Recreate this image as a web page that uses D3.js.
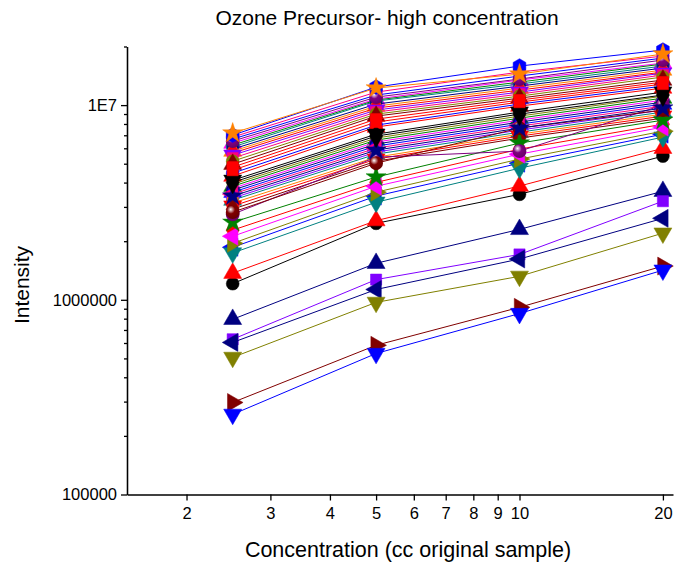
<!DOCTYPE html>
<html lang="en">
<head>
    <meta charset="UTF-8">
    <title>Ozone Precursor- high concentration</title>
    <script src="https://cdn.jsdelivr.net/npm/d3@7"></script>
    <style>
        body { margin: 0; background: #fff; }
        text { font-family: "Liberation Sans", Arial, sans-serif; fill: #000; }
    </style>
</head>
<body>
<script>
    const [width, height] = [674, 567]

    // x values shared by every compound (cc of original sample)
    const concentration = [2.5, 5, 10, 20]

    // intensity per compound, one row per plotted line
    const intensity = [
        [6.85e6, 1.166e7, 1.478e7, 1.786e7],
        [6.69e6, 1.126e7, 1.410e7, 1.744e7],
        [6.38e6, 1.074e7, 1.345e7, 1.644e7],
        [6.23e6, 1.061e7, 1.313e7, 1.625e7],
        [6.09e6, 1.049e7, 1.283e7, 1.587e7],
        [5.94e6, 1.012e7, 1.252e7, 1.550e7],
        [5.80e6, 9.88e6, 1.223e7, 1.513e7],
        [5.67e6, 9.65e6, 1.194e7, 1.478e7],
        [5.53e6, 9.43e6, 1.166e7, 1.460e7],
        [5.34e6, 9.21e6, 1.139e7, 1.427e7],
        [5.15e6, 8.99e6, 1.112e7, 1.394e7],
        [4.97e6, 8.78e6, 1.086e7, 1.345e7],
        [4.80e6, 8.47e6, 1.061e7, 1.313e7],
        [4.47e6, 7.89e6, 1.012e7, 1.252e7],
        [4.32e6, 7.71e6, 9.88e6, 1.223e7],
        [3.92e6, 6.77e6, 8.78e6, 1.112e7],
        [3.83e6, 6.61e6, 8.57e6, 1.086e7],
        [3.74e6, 6.46e6, 8.37e6, 1.061e7],
        [3.66e6, 6.31e6, 8.18e6, 1.036e7],
        [3.57e6, 6.16e6, 7.98e6, 1.012e7],
        [3.49e6, 6.01e6, 7.80e6, 9.88e6],
        [3.33e6, 5.74e6, 7.44e6, 9.43e6],
        [3.25e6, 5.60e6, 7.26e6, 9.21e6],
        [3.14e6, 5.40e6, 7.09e6, 8.99e6],
        [3.03e6, 5.28e6, 6.93e6, 8.78e6],
        [2.92e6, 5.15e6, 6.77e6, 8.57e6],
        [2.28e6, 4.01e6, 5.94e6, 7.98e6],
        [1.86e6, 3.41e6, 5.03e6, 7.09e6],
        [1.21e6, 2.47e6, 3.48e6, 5.47e6],
        [1.37e6, 2.55e6, 3.84e6, 6.00e6],
        [7.94e5, 1.54e6, 2.30e6, 3.61e6],
        [6.27e5, 1.27e6, 1.71e6, 3.21e6],
        [6.04e5, 1.13e6, 1.62e6, 2.62e6],
        [5.06e5, 9.70e5, 1.32e6, 2.20e6],
        [2.97e5, 5.84e5, 9.15e5, 1.49e6],
        [2.58e5, 5.30e5, 8.50e5, 1.42e6],
        [1.74e6, 3.17e6, 4.74e6, 6.85e6],
        [1.95e6, 3.57e6, 5.28e6, 7.35e6],
        [2.12e6, 3.83e6, 5.60e6, 7.71e6],
        [2.50e6, 4.27e6, 6.38e6, 8.37e6],
        [2.75e6, 5.40e6, 5.80e6, 1.00e7],
        [2.82e6, 5.03e6, 7.62e6, 9.43e6],
        [3.41e6, 5.87e6, 7.62e6, 9.65e6],
        [4.11e6, 7.09e6, 9.21e6, 1.166e7],
        [4.01e6, 6.93e6, 8.99e6, 1.126e7],
        [4.63e6, 8.18e6, 1.036e7, 1.283e7],
        [6.53e6, 1.099e7, 1.361e7, 1.704e7],
        [7.01e6, 1.237e7, 1.587e7, 1.918e7],
        [7.18e6, 1.223e7, 1.443e7, 1.829e7]
    ]

    const xTicks = [2, 3, 4, 5, 6, 7, 8, 9, 10, 20]
    const yMajorTicks = [1e5, 1e6, 1e7]
    const yTickLabels = ['100000', '1000000', '1E7']
    const titleText = 'Ozone Precursor- high concentration'
    const xLabel = 'Concentration (cc original sample)'
    const yLabel = 'Intensity'

    // styling, one entry per row of intensity
    const lineColor = [
        '#FF0080', '#0000FF', '#FF00FF', '#008000', '#008080', '#000080', '#FF8000', '#FF0000',
        '#8000FF', '#FF0080', '#808000', '#800000', '#FF0000', '#0000FF', '#FF0000', '#808000',
        '#008000', '#FF00FF', '#000080', '#0000FF', '#FF0080', '#8000FF', '#008080', '#FF8000',
        '#FF0000', '#800000', '#FF0000', '#0000FF',
        '#000000', '#FF0000', '#000080', '#8000FF', '#000080', '#808000', '#800000', '#0000FF',
        '#008080', '#808000', '#FF00FF', '#008000', '#800080', '#800000', '#000080', '#000000',
        '#000000', '#FF0000', '#800080', '#0000FF', '#FF8000'
    ]
    const lineSymbol = [
        'circle', 'square', 'up', 'diamond', 'circle', 'square', 'up', 'diamond',
        'down', 'square', 'circle', 'up', 'square', 'circle', 'up', 'square',
        'up', 'diamond', 'circle', 'up', 'left', 'circle', 'up', 'square',
        'down', 'diamond', 'diamond', 'left',
        'circle', 'up', 'up', 'square', 'left', 'down', 'right', 'down',
        'down', 'right', 'left', 'star', 'sphere', 'sphere', 'star', 'down',
        'diamond', 'square', 'sphere', 'hexagon', 'star'
    ]

    const x = d3.scaleLog().domain([1.5, 21]).range([127, 673])
    const y = d3.scaleLog().domain([1e5, 2e7]).range([494.5, 46.5])

    const svg = d3.select('body').append('svg')
        .attr('width', width)
        .attr('height', height)

    // sphere symbols get a shaded gradient
    const defs = svg.append('defs')
    const sphereColors = [...new Set(lineColor.filter((c, i) => lineSymbol[i] === 'sphere'))]
    sphereColors.forEach(c => {
        const g = defs.append('radialGradient')
            .attr('id', 'sph' + c.slice(1))
            .attr('cx', '0.4').attr('cy', '0.35').attr('r', '0.65')
            .attr('fx', '0.35').attr('fy', '0.3')
        g.append('stop').attr('offset', '0').attr('stop-color', '#ffffff')
        g.append('stop').attr('offset', '0.45').attr('stop-color', c)
        g.append('stop').attr('offset', '1').attr('stop-color', d3.color(c).darker(0.6))
    })

    const symbolHexagon = {
        draw(context, size) {
            const r = Math.sqrt(size / (1.5 * Math.sqrt(3)))
            for (let i = 0; i < 6; i++) {
                const a = Math.PI / 3 * i - Math.PI / 2
                const px = r * Math.cos(a), py = r * Math.sin(a)
                i === 0 ? context.moveTo(px, py) : context.lineTo(px, py)
            }
            context.closePath()
        }
    }

    const symbolSpec = {
        circle: [d3.symbolCircle, 130, 0],
        sphere: [d3.symbolCircle, 150, 0],
        square: [d3.symbolSquare, 125, 0],
        diamond: [d3.symbolDiamond, 150, 0],
        up: [d3.symbolTriangle, 140, 0],
        down: [d3.symbolTriangle, 140, 180],
        left: [d3.symbolTriangle, 140, -90],
        right: [d3.symbolTriangle, 140, 90],
        star: [d3.symbolStar, 125, 0],
        hexagon: [symbolHexagon, 140, 0]
    }

    // axes
    const yAxis = d3.axisLeft(y)
        .tickValues(yMajorTicks)
        .tickFormat((d, i) => yTickLabels[i])
        .tickSize(6)
        .tickSizeOuter(0)
        .tickPadding(4)
    const yMinor = []
    ;[1e5, 1e6, 1e7].forEach(dec => d3.range(2, 10).forEach(k => {
        if (dec * k <= 2e7) yMinor.push(dec * k)
    }))
    const yMinorAxis = d3.axisLeft(y).tickValues(yMinor).tickFormat('').tickSize(3).tickSizeOuter(0)

    const xAxis = d3.axisBottom(x)
        .tickValues(xTicks)
        .tickFormat(d3.format('d'))
        .tickSize(6)
        .tickSizeOuter(0)
        .tickPadding(7)

    const gx = svg.append('g').attr('transform', `translate(0,${y(1e5)})`).call(xAxis)
    const gy = svg.append('g').attr('transform', `translate(${x(1.5)},0)`).call(yAxis)
    svg.append('g').attr('transform', `translate(${x(1.5)},0)`).call(yMinorAxis)

    svg.selectAll('.domain').attr('stroke', '#000').attr('stroke-width', 1.3)
    svg.selectAll('.tick line').attr('stroke', '#000').attr('stroke-width', 1.3)
    gx.selectAll('.tick text').attr('font-size', 16.5).attr('font-family', 'Liberation Sans, Arial, sans-serif')
    gy.selectAll('.tick text').attr('font-size', 16.5).attr('font-family', 'Liberation Sans, Arial, sans-serif')

    // lines and markers, drawn compound by compound
    const line = d3.line()
        .x((d, i) => x(concentration[i]))
        .y(d => y(d))

    const plots = svg.append('g')
    intensity.forEach((row, s) => {
        const color = lineColor[s]
        const [type, size, rot] = symbolSpec[lineSymbol[s]]
        const g = plots.append('g')
        g.append('path')
            .attr('d', line(row))
            .attr('fill', 'none')
            .attr('stroke', color)
            .attr('stroke-width', 1)
        g.selectAll('path.sym').data(row).enter().append('path')
            .attr('class', 'sym')
            .attr('d', d3.symbol(type, size))
            .attr('transform', (d, i) => `translate(${x(concentration[i])},${y(d)}) rotate(${rot})`)
            .attr('fill', lineSymbol[s] === 'sphere' ? `url(#sph${color.slice(1)})` : color)
            .attr('stroke', lineSymbol[s] === 'sphere' ? 'none' : color)
            .attr('stroke-width', 0.5)
    })

    // titles
    svg.append('text')
        .attr('x', 387).attr('y', 25)
        .attr('text-anchor', 'middle')
        .attr('font-size', 21)
        .text(titleText)
    svg.append('text')
        .attr('x', 408).attr('y', 557)
        .attr('text-anchor', 'middle')
        .attr('font-size', 21.5)
        .text(xLabel)
    svg.append('text')
        .attr('transform', 'translate(29,285) rotate(-90)')
        .attr('text-anchor', 'middle')
        .attr('font-size', 21)
        .text(yLabel)
</script>
</body>
</html>
